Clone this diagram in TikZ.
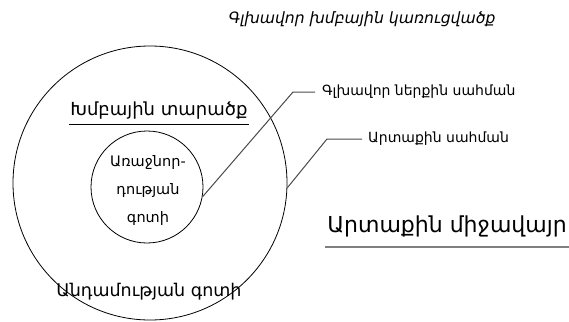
\documentclass[tikz,border=0pt]{standalone}
\usepackage{fontspec}
\setmainfont{DejaVu Sans}
\usepackage{tikz}
\usetikzlibrary{positioning}
\definecolor{leader}{HTML}{4A4A4A}

\tikzset{
  zone/.style={draw, circle, inner sep=0pt, line width=0.8pt},
  callout/.style={draw=leader, line width=1pt},
  tag/.style={anchor=west, inner sep=0pt, font=\fontsize{14}{16}\selectfont}
}

\begin{document}
\begin{tikzpicture}[x=1pt, y=-1pt, line join=round]
  \useasboundingbox (0,0) rectangle (569,321);
  % Nadpis
  \node[font=\fontsize{15.6}{18}\selectfont\itshape] (title) at (362,19) {Գլխավոր խմբային կառուցվածք};
  % Kruhy
  \node[zone, minimum size=274pt] (outer) at (150,183) {};
  \node[zone, minimum size=112pt] (inner) at (147,187) {};
  % Texty v kruzich
  \node[inner sep=1pt, font=\fontsize{18}{20}\selectfont] (space) at (159,111) {Խմբային տարածք};
  \draw[line width=0.9pt] ([yshift=-4pt]space.south west) -- ([yshift=-4pt]space.south east);
  \node[align=center, font=\fontsize{14.5}{28}\selectfont] (lead) at (148,190) {Առաջնոր-\\դության\\գոտի};
  \node[font=\fontsize{17.5}{20}\selectfont] (member) at (149,292) {Անդամության գոտի};
  % Popisky
  \node[tag] (g1) at (322,92) {Գլխավոր ներքին սահման};
  \node[tag] (g2) at (368,139) {Արտաքին սահման};
  \draw[callout] (inner.-10) -- (293,92) -- ([xshift=-7pt]g1.west);
  \draw[callout] (outer.-2) -- (327,139) -- ([xshift=-6pt]g2.west);
  % Vnejsi prostredi
  \node[inner sep=2pt, font=\fontsize{22}{24}\selectfont] (env) at (447,226) {Արտաքին միջավայր};
  \draw[gray, line width=1.4pt] ([yshift=-8pt]env.south west) -- ([yshift=-8pt]env.south east);
\end{tikzpicture}
\end{document}
